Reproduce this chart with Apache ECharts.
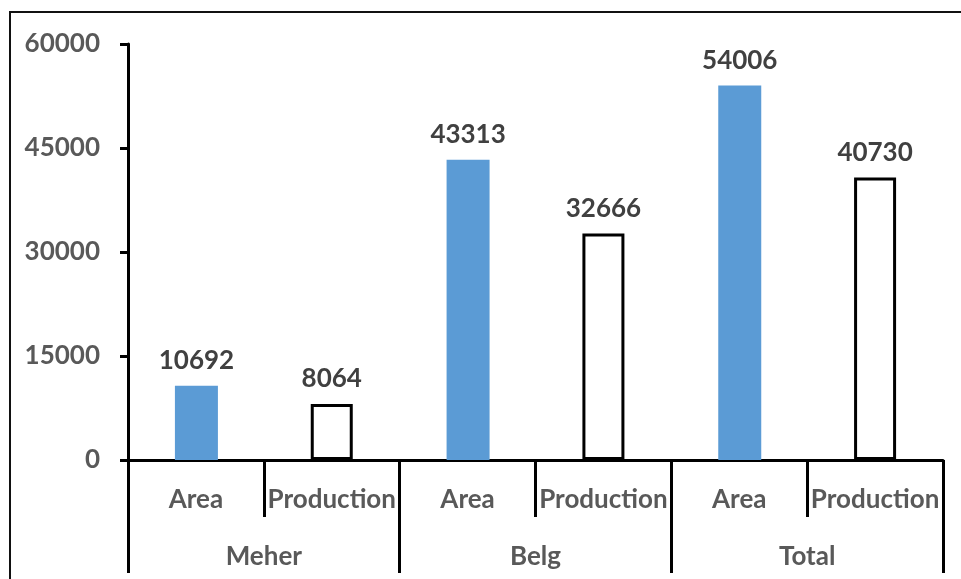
<!DOCTYPE html>
<html>
<head>
<meta charset="utf-8">
<script src="https://cdn.jsdelivr.net/npm/echarts@6/dist/echarts.min.js"></script>
<style>
  html, body { margin: 0; padding: 0; background: #ffffff; }
  #chart { width: 961px; height: 579px; }
</style>
</head>
<body>
<div id="chart"></div>
<script>
// Season groups and the two measures shown inside each group
const seasons = ['Meher', 'Belg', 'Total'];
const measures = ['Area', 'Production'];
const areaValues = [10692, 43313, 54006];
const productionValues = [8064, 32666, 40730];
const yTicks = [0, 15000, 30000, 45000, 60000];

// Flatten into six category slots: Area / Production per season
const slotLabels = [];
const areaSlots = [];
const prodSlots = [];
seasons.forEach((s, i) => {
  slotLabels.push(measures[0], measures[1]);
  areaSlots.push(areaValues[i], null);
  prodSlots.push(null, productionValues[i]);
});

const FONT = 'Lato, "Open Sans", sans-serif';
const FS = 26;
const FW = 'bold';
const labelStyle = {
  show: true,
  position: 'top',
  distance: 12,
  color: '#404040',
  fontFamily: FONT,
  fontWeight: FW,
  fontSize: FS
};

const chart = echarts.init(document.getElementById('chart'));
chart.setOption({
  animation: false,
  backgroundColor: '#ffffff',
  graphic: [{
    type: 'rect',
    shape: { x: 10, y: 12, width: 980, height: 600 },
    style: { fill: 'none', stroke: '#111111', lineWidth: 2 },
    silent: true,
    z: -1
  }],
  grid: { left: 128, right: 18, top: 44, bottom: 119, containLabel: false },
  xAxis: [{
    type: 'category',
    data: slotLabels,
    position: 'bottom',
    axisLine: { show: true, lineStyle: { color: '#000', width: 3 } },
    axisTick: { show: true, interval: 0, length: 57, lineStyle: { color: '#000', width: 3 } },
    axisLabel: {
      interval: 0, margin: 27, color: '#595959',
      fontFamily: FONT, fontWeight: FW, fontSize: FS
    },
    splitLine: { show: false }
  }, {
    type: 'category',
    data: seasons,
    position: 'bottom',
    axisLine: { show: false },
    axisTick: { show: true, interval: 0, length: 113, lineStyle: { color: '#000', width: 3 } },
    axisLabel: {
      interval: 0, margin: 84, color: '#595959',
      fontFamily: FONT, fontWeight: FW, fontSize: FS
    },
    splitLine: { show: false }
  }],
  yAxis: {
    type: 'value',
    min: yTicks[0],
    max: yTicks[yTicks.length - 1],
    interval: yTicks[1] - yTicks[0],
    axisLine: { show: true, lineStyle: { color: '#000', width: 3 } },
    axisTick: { show: true, length: 8, lineStyle: { color: '#000', width: 3 } },
    axisLabel: {
      margin: 28, color: '#595959',
      fontFamily: FONT, fontWeight: FW, fontSize: FS,
      formatter: (v) => String(v)
    },
    splitLine: { show: false }
  },
  series: [{
    name: 'Area',
    type: 'bar',
    xAxisIndex: 0,
    data: areaSlots,
    barWidth: 43,
    barGap: '-100%',
    itemStyle: { color: '#5b9bd5' },
    label: labelStyle
  }, {
    name: 'Production',
    type: 'bar',
    xAxisIndex: 0,
    data: prodSlots,
    barWidth: 42,
    barGap: '-100%',
    itemStyle: { color: '#ffffff', borderColor: '#000000', borderWidth: 3 },
    label: labelStyle
  }]
});
</script>
</body>
</html>
